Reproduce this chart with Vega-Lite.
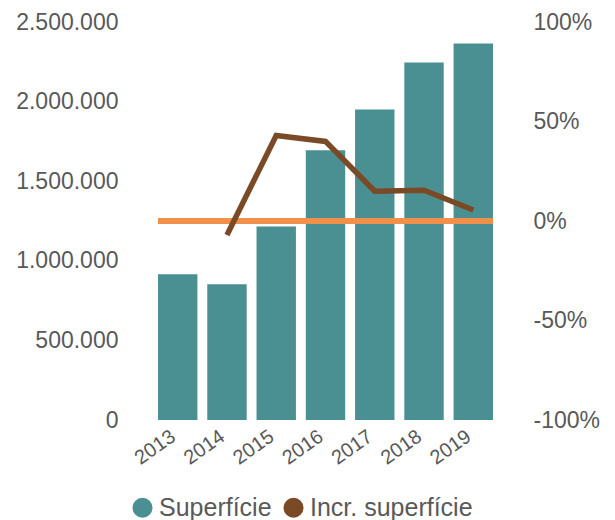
{
  "$schema": "https://vega.github.io/schema/vega-lite/v6.json",
  "width": 335,
  "height": 398,
  "autosize": "none",
  "padding": {"left": 158, "top": 22, "right": 122, "bottom": 100},
  "config": {
    "view": {"stroke": null},
    "font": "Liberation Sans",
    "locale": {"number": {"decimal": ",", "thousands": ".", "grouping": [3], "currency": ["", " €"], "minus": "-"}}
  },
  "data": {"values": [
    {"year": "2013", "sup": 915000, "incr": null},
    {"year": "2014", "sup": 853000, "incr": -0.07},
    {"year": "2015", "sup": 1215000, "incr": 0.43},
    {"year": "2016", "sup": 1695000, "incr": 0.40},
    {"year": "2017", "sup": 1950000, "incr": 0.15},
    {"year": "2018", "sup": 2245000, "incr": 0.155},
    {"year": "2019", "sup": 2365000, "incr": 0.055}
  ]},
  "layer": [
    {
      "mark": {"type": "bar", "color": "#4A8F91"},
      "encoding": {
        "x": {"field": "year", "type": "ordinal",
          "scale": {"paddingInner": 0.2, "paddingOuter": 0},
          "axis": {"title": null, "labelAngle": -35, "labelFontSize": 20, "labelColor": "#595959", "ticks": false, "domain": false, "labelPadding": 6, "labelOffset": -10}},
        "y": {"field": "sup", "type": "quantitative", "scale": {"domain": [0, 2500000]},
          "axis": {"title": null, "values": [0, 500000, 1000000, 1500000, 2000000, 2500000], "format": ",d", "labelFontSize": 23, "labelColor": "#595959", "labelPadding": 40, "ticks": false, "domain": false, "grid": false}},
        "color": {"datum": "Superfície", "type": "nominal",
          "scale": {"domain": ["Superfície", "Incr. superfície"], "range": ["#4A8F91", "#7A4A26"]},
          "legend": {"title": null, "orient": "none", "legendX": -28, "legendY": 473, "direction": "horizontal", "symbolType": "circle", "symbolSize": 400, "symbolStrokeWidth": 0, "labelFontSize": 25, "labelColor": "#595959", "labelOffset": 4, "labelLimit": 400, "columnPadding": 9}}
      }
    },
    {
      "layer": [
        {
          "mark": {"type": "rule", "color": "#F0904A", "strokeWidth": 5},
          "encoding": {
            "y": {"datum": 0, "type": "quantitative", "scale": {"domain": [-1, 1]},
              "axis": {"orient": "right", "title": null, "values": [-1, -0.5, 0, 0.5, 1], "format": ".0%", "labelFontSize": 23, "labelColor": "#595959", "labelPadding": 40, "ticks": false, "domain": false, "grid": false}}
          }
        },
        {
          "mark": {"type": "line", "strokeWidth": 5.5},
          "encoding": {
            "x": {"field": "year", "type": "ordinal"},
            "y": {"field": "incr", "type": "quantitative"},
            "color": {"datum": "Incr. superfície", "type": "nominal"}
          }
        }
      ]
    }
  ],
  "resolve": {"scale": {"y": "independent"}}
}
